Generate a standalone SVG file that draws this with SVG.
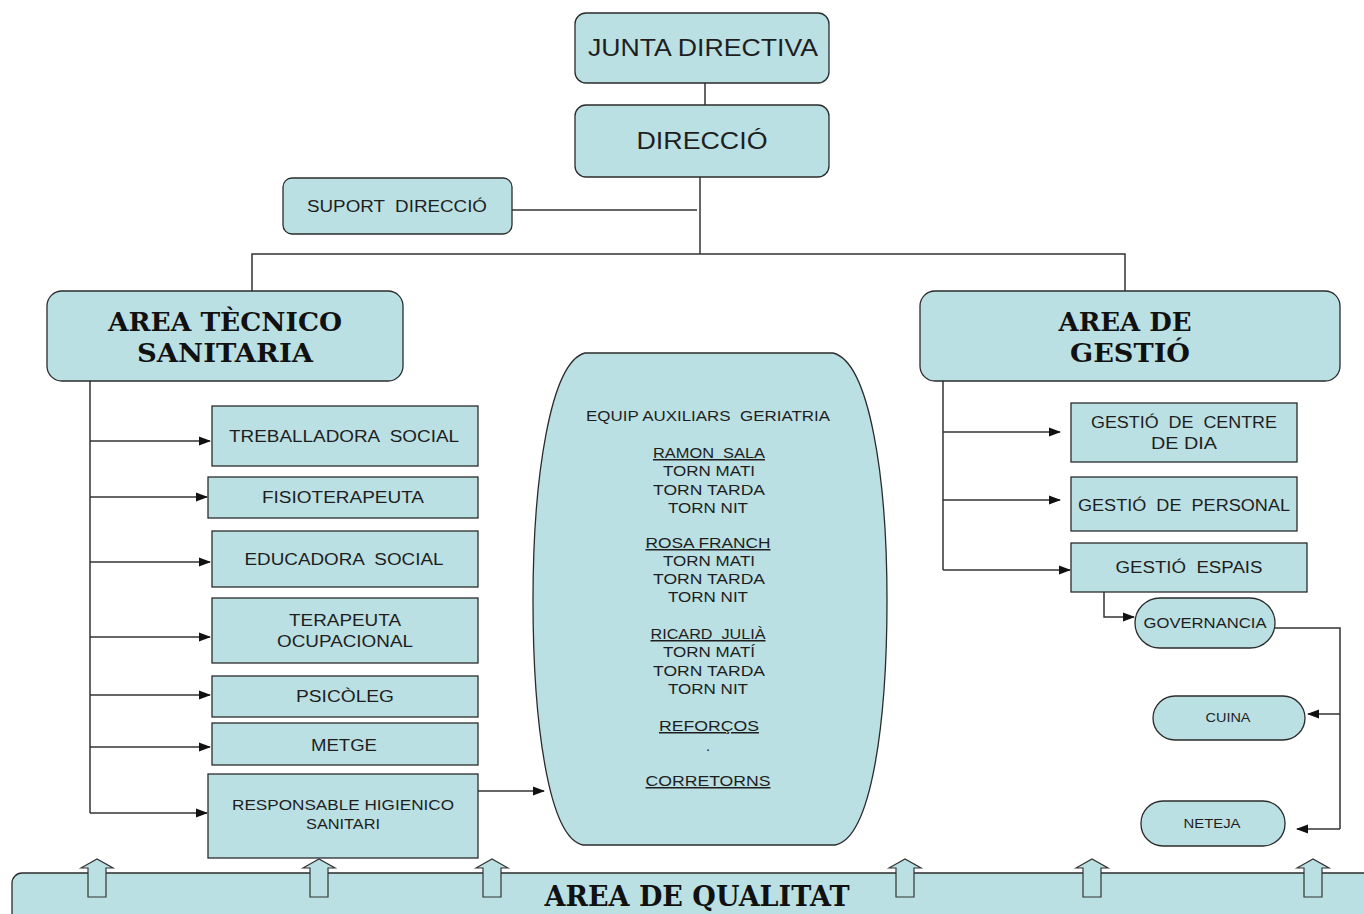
<svg xmlns="http://www.w3.org/2000/svg" width="1364" height="914" viewBox="0 0 1364 914" xml:space="preserve">
<style>
.box{fill:#bbe0e3;stroke:#2b2b2b;stroke-width:1.3}
.t{font-family:"Liberation Sans",Arial,sans-serif;fill:#1e1e1e;text-anchor:middle;white-space:pre}
.h{font-family:"DejaVu Serif","Liberation Serif",serif;font-weight:bold;fill:#111;text-anchor:middle}
.c{fill:none;stroke:#333;stroke-width:1.5}
.u{text-decoration:underline}
.ba{fill:#bbe0e3;stroke:#333;stroke-width:1.2}
</style>
<defs>
<marker id="ah" viewBox="0 0 12 10" refX="11" refY="5" markerWidth="12" markerHeight="10" markerUnits="userSpaceOnUse" orient="auto">
<path d="M0,0.5 L12,5 L0,9.5 Z" fill="#111"/>
</marker>
</defs>
<rect width="1364" height="914" fill="#fff"/>

<g id="connectors">
<line class="c" x1="705" y1="83" x2="705" y2="105"/>
<polyline class="c" points="700,177 700,254"/>
<line class="c" x1="512" y1="210" x2="697" y2="210"/>
<polyline class="c" points="252,292 252,254 1125,254 1125,292"/>
<line class="c" x1="90" y1="381" x2="90" y2="813"/>
<line class="c" x1="90" y1="441" x2="210" y2="441" marker-end="url(#ah)"/>
<line class="c" x1="90" y1="497" x2="207" y2="497" marker-end="url(#ah)"/>
<line class="c" x1="90" y1="562" x2="210" y2="562" marker-end="url(#ah)"/>
<line class="c" x1="90" y1="637" x2="210" y2="637" marker-end="url(#ah)"/>
<line class="c" x1="90" y1="695" x2="210" y2="695" marker-end="url(#ah)"/>
<line class="c" x1="90" y1="747" x2="210" y2="747" marker-end="url(#ah)"/>
<line class="c" x1="90" y1="813" x2="207" y2="813" marker-end="url(#ah)"/>
<line class="c" x1="478" y1="791" x2="544" y2="791" marker-end="url(#ah)"/>
<line class="c" x1="943" y1="381" x2="943" y2="570"/>
<line class="c" x1="943" y1="432" x2="1060" y2="432" marker-end="url(#ah)"/>
<line class="c" x1="943" y1="500" x2="1060" y2="500" marker-end="url(#ah)"/>
<line class="c" x1="943" y1="570" x2="1070" y2="570" marker-end="url(#ah)"/>
<polyline class="c" points="1104,592 1104,617 1134,617" marker-end="url(#ah)"/>
<polyline class="c" points="1275,628 1340,628 1340,829"/>
<line class="c" x1="1340" y1="714" x2="1308" y2="714" marker-end="url(#ah)"/>
<line class="c" x1="1340" y1="829" x2="1297" y2="829" marker-end="url(#ah)"/>
</g>

<g id="junta"><rect class="box" x="575" y="13" width="254" height="70" rx="11"/><text class="t" x="703" y="56" font-size="23" textLength="230" lengthAdjust="spacingAndGlyphs">JUNTA DIRECTIVA</text></g>
<g id="direccio"><rect class="box" x="575" y="105" width="254" height="72" rx="11"/><text class="t" x="702" y="149" font-size="23" textLength="131" lengthAdjust="spacingAndGlyphs">DIRECCIÓ</text></g>
<g id="suport"><rect class="box" x="283" y="178" width="229" height="56" rx="9"/><text class="t" x="397" y="212" font-size="16" textLength="180" lengthAdjust="spacingAndGlyphs">SUPORT  DIRECCIÓ</text></g>

<g id="area-tecnico"><rect class="box" x="47" y="291" width="356" height="90" rx="15"/>
<text class="h" x="225" y="331" font-size="26" textLength="234" lengthAdjust="spacingAndGlyphs">AREA TÈCNICO</text>
<text class="h" x="225" y="362" font-size="26" textLength="176" lengthAdjust="spacingAndGlyphs">SANITARIA</text></g>
<g id="area-gestio"><rect class="box" x="920" y="291" width="420" height="90" rx="15"/>
<text class="h" x="1125" y="331" font-size="26" textLength="133" lengthAdjust="spacingAndGlyphs">AREA DE</text>
<text class="h" x="1130" y="362" font-size="26" textLength="120" lengthAdjust="spacingAndGlyphs">GESTIÓ</text></g>

<g id="treballadora"><rect class="box" x="212" y="406" width="266" height="60"/><text class="t" x="344" y="442" font-size="16" textLength="230" lengthAdjust="spacingAndGlyphs">TREBALLADORA  SOCIAL</text></g>
<g id="fisio"><rect class="box" x="208" y="477" width="270" height="41"/><text class="t" x="343" y="503" font-size="16" textLength="162" lengthAdjust="spacingAndGlyphs">FISIOTERAPEUTA</text></g>
<g id="educadora"><rect class="box" x="212" y="531" width="266" height="56"/><text class="t" x="344" y="565" font-size="16" textLength="199" lengthAdjust="spacingAndGlyphs">EDUCADORA  SOCIAL</text></g>
<g id="terapeuta"><rect class="box" x="212" y="598" width="266" height="65"/><text class="t" x="345" y="626" font-size="16" textLength="112" lengthAdjust="spacingAndGlyphs">TERAPEUTA</text><text class="t" x="345" y="647" font-size="16" textLength="136" lengthAdjust="spacingAndGlyphs">OCUPACIONAL</text></g>
<g id="psicoleg"><rect class="box" x="212" y="676" width="266" height="41"/><text class="t" x="345" y="702" font-size="16" textLength="98" lengthAdjust="spacingAndGlyphs">PSICÒLEG</text></g>
<g id="metge"><rect class="box" x="212" y="723" width="266" height="42"/><text class="t" x="344" y="751" font-size="16" textLength="66" lengthAdjust="spacingAndGlyphs">METGE</text></g>
<g id="responsable"><rect class="box" x="208" y="774" width="270" height="84"/><text class="t" x="343" y="810" font-size="15" textLength="222" lengthAdjust="spacingAndGlyphs">RESPONSABLE HIGIENICO</text><text class="t" x="343" y="829" font-size="15" textLength="74" lengthAdjust="spacingAndGlyphs">SANITARI</text></g>

<g id="equip">
<path class="box" d="M585,353 H833 C870,362 887,480 887,600 C887,720 872,838 835,845 H583 C548,838 533,720 533,600 C533,480 550,362 585,353 Z"/>
<g font-size="15">
<text class="t" x="708" y="421" textLength="244" lengthAdjust="spacingAndGlyphs">EQUIP AUXILIARS  GERIATRIA</text>
<text class="t u" x="709" y="458" textLength="112" lengthAdjust="spacingAndGlyphs">RAMON  SALA</text>
<text class="t" x="709" y="476" textLength="92" lengthAdjust="spacingAndGlyphs">TORN MATI</text>
<text class="t" x="709" y="495" textLength="112" lengthAdjust="spacingAndGlyphs">TORN TARDA</text>
<text class="t" x="708" y="513" textLength="80" lengthAdjust="spacingAndGlyphs">TORN NIT</text>
<text class="t u" x="708" y="548" textLength="125" lengthAdjust="spacingAndGlyphs">ROSA FRANCH</text>
<text class="t" x="709" y="566" textLength="92" lengthAdjust="spacingAndGlyphs">TORN MATI</text>
<text class="t" x="709" y="584" textLength="112" lengthAdjust="spacingAndGlyphs">TORN TARDA</text>
<text class="t" x="708" y="602" textLength="80" lengthAdjust="spacingAndGlyphs">TORN NIT</text>
<text class="t u" x="708" y="639" textLength="115" lengthAdjust="spacingAndGlyphs">RICARD  JULIÀ</text>
<text class="t" x="709" y="657" textLength="92" lengthAdjust="spacingAndGlyphs">TORN MATÍ</text>
<text class="t" x="709" y="676" textLength="112" lengthAdjust="spacingAndGlyphs">TORN TARDA</text>
<text class="t" x="708" y="694" textLength="80" lengthAdjust="spacingAndGlyphs">TORN NIT</text>
<text class="t u" x="709" y="731" textLength="100" lengthAdjust="spacingAndGlyphs">REFORÇOS</text>
<text class="t" x="708" y="751">.</text>
<text class="t u" x="708" y="786" textLength="125" lengthAdjust="spacingAndGlyphs">CORRETORNS</text>
</g>
</g>

<g id="centre-dia"><rect class="box" x="1071" y="403" width="226" height="59"/><text class="t" x="1184" y="428" font-size="16" textLength="186" lengthAdjust="spacingAndGlyphs">GESTIÓ  DE  CENTRE</text><text class="t" x="1184" y="449" font-size="16" textLength="66" lengthAdjust="spacingAndGlyphs">DE DIA</text></g>
<g id="personal"><rect class="box" x="1071" y="477" width="226" height="54"/><text class="t" x="1184" y="511" font-size="16" textLength="212" lengthAdjust="spacingAndGlyphs">GESTIÓ  DE  PERSONAL</text></g>
<g id="espais"><rect class="box" x="1071" y="543" width="236" height="49"/><text class="t" x="1189" y="573" font-size="16" textLength="147" lengthAdjust="spacingAndGlyphs">GESTIÓ  ESPAIS</text></g>
<g id="governancia"><rect class="box" x="1135" y="598" width="140" height="50" rx="25"/><text class="t" x="1205" y="628" font-size="14" textLength="123" lengthAdjust="spacingAndGlyphs">GOVERNANCIA</text></g>
<g id="cuina"><rect class="box" x="1153" y="696" width="152" height="44" rx="22"/><text class="t" x="1228" y="722" font-size="13" textLength="45" lengthAdjust="spacingAndGlyphs">CUINA</text></g>
<g id="neteja"><rect class="box" x="1141" y="801" width="144" height="45" rx="22"/><text class="t" x="1212" y="828" font-size="13" textLength="57" lengthAdjust="spacingAndGlyphs">NETEJA</text></g>

<g id="area-qualitat">
<rect class="box" x="12" y="873" width="1400" height="70" rx="10"/>
<text class="h" x="697" y="906" font-size="28" textLength="305" lengthAdjust="spacingAndGlyphs">AREA DE QUALITAT</text>
</g>
<g id="block-arrows">
<path class="ba" d="M81,868 L97,859 L113,868 L106,868 L106,897 L88,897 L88,868 Z"/>
<path class="ba" d="M303,868 L319,859 L335,868 L328,868 L328,897 L310,897 L310,868 Z"/>
<path class="ba" d="M476,868 L492,859 L508,868 L501,868 L501,897 L483,897 L483,868 Z"/>
<path class="ba" d="M889,868 L905,859 L921,868 L914,868 L914,897 L896,897 L896,868 Z"/>
<path class="ba" d="M1076,868 L1092,859 L1108,868 L1101,868 L1101,897 L1083,897 L1083,868 Z"/>
<path class="ba" d="M1297,868 L1313,859 L1329,868 L1322,868 L1322,897 L1304,897 L1304,868 Z"/>
</g>
</svg>
